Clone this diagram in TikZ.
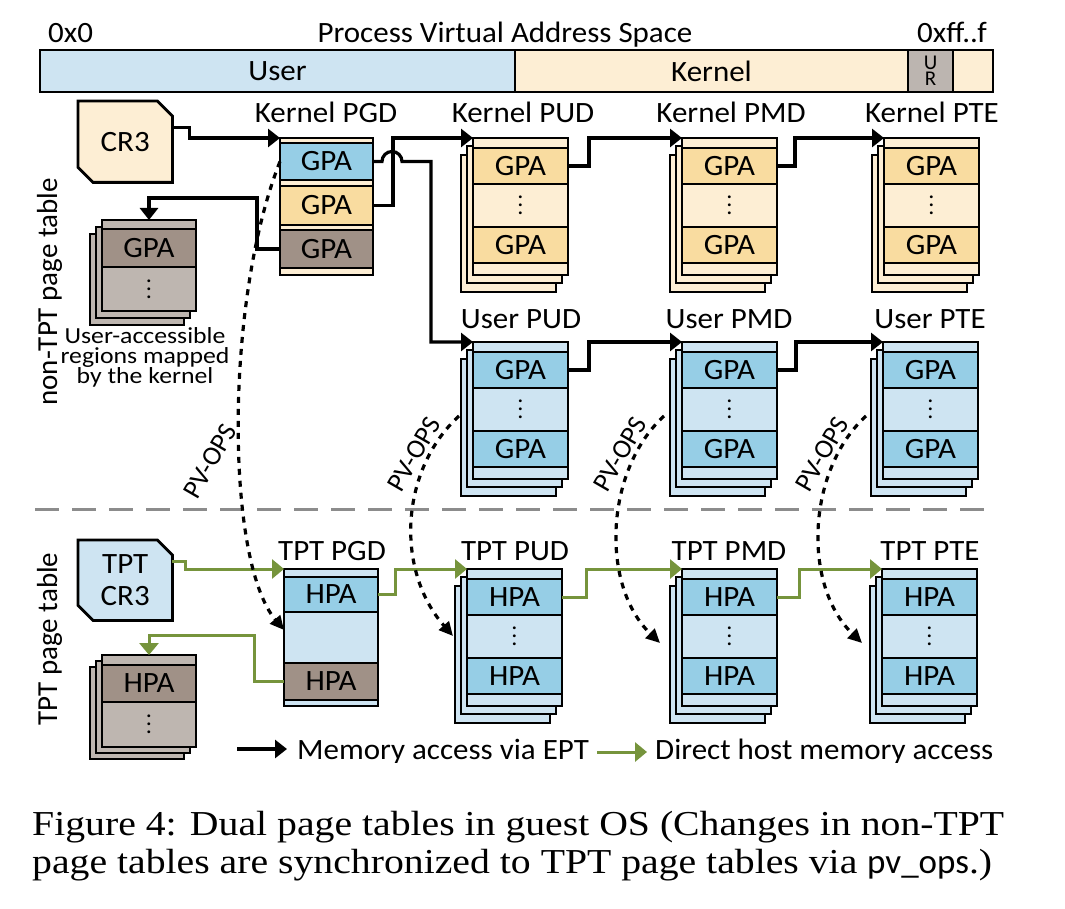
\documentclass[tikz,border=0pt]{standalone}
\usepackage{fontspec}
\setmainfont{Carlito}[FakeStretch=1.05]
\newfontfamily\plainfont{Carlito}
\newfontfamily\notefont{Carlito}[FakeStretch=1.12]
\newfontfamily\capfont{Liberation Serif}[FakeStretch=1.135]
\usetikzlibrary{arrows.meta,calc}
\definecolor{lblue}{RGB}{206,228,242}
\definecolor{mblue}{RGB}{150,206,230}
\definecolor{lorange}{RGB}{253,238,212}
\definecolor{morange}{RGB}{249,220,160}
\definecolor{brownd}{RGB}{160,145,135}
\definecolor{brownl}{RGB}{190,182,176}
\definecolor{urgray}{RGB}{188,181,176}
\definecolor{dgreen}{RGB}{118,148,60}
\definecolor{sepgray}{RGB}{140,140,140}
\newcommand\mainsize{\fontsize{29.5}{32}\selectfont}
\newcommand\vdts{\vbox{\fontsize{23}{23}\selectfont\baselineskip8pt\lineskiplimit0pt\lineskip0pt\hbox{.}\hbox{.}\hbox{.}}}
\tikzset{
  lbl/.style={font=\mainsize, inner sep=0pt},
  tbl/.style={draw, line width=2.8pt, minimum width=95pt, inner sep=0pt, outer sep=0pt},
  row/.style={draw, line width=2.8pt, minimum width=95pt, minimum height=36pt, inner sep=0pt, outer sep=0pt, font=\mainsize},
  dotrow/.style={minimum width=95pt, inner sep=0pt, outer sep=0pt},
  layer/.style={draw, line width=2.8pt},
  bar/.style={draw, line width=2.8pt, minimum height=42pt, inner sep=0pt, outer sep=0pt, font=\mainsize},
  ept/.style={line width=3.2pt, -{Triangle[length=12pt,width=18pt]}},
  hma/.style={line width=3pt, color=dgreen, -{Triangle[length=12pt,width=19pt]}},
  pvops/.style={line width=3.2pt, dash pattern=on 6pt off 6pt, -{Triangle[length=14pt,width=13pt]}},
  pvlbl/.style={font=\plainfont\fontsize{27}{27}\selectfont, rotate=60, inner sep=0pt},
  sepline/.style={line width=3pt, draw=sepgray, dash pattern=on 24pt off 13pt},
  notelbl/.style={font=\notefont\fontsize{23}{23}\selectfont, inner sep=0pt, anchor=base},
  sidelbl/.style={font=\plainfont\fontsize{29}{31}\selectfont, rotate=90, anchor=base, inner sep=0pt},
  caplbl/.style={font=\capfont\fontsize{35}{38}\selectfont, anchor=base west, inner sep=0pt},
}
% #1 name, #2 x, #3 y (top left of front table), #4 light fill, #5 entry fill, #6 entry text
\newcommand\pgstack[6]{%
  \draw[layer,fill=#4] (#2-12,#3+17) rectangle ++(95,137);
  \draw[layer,fill=#4] (#2-6,#3+8) rectangle ++(95,137);
  \node[tbl,fill=#4,minimum height=137pt,anchor=north west] (#1) at (#2,#3) {};
  \node[row,fill=#5,anchor=north west] (#1-a) at (#2,#3+10) {#6};
  \node[row,fill=#4,minimum height=43pt,anchor=north west] (#1-d) at (#2,#3+46) {\vdts};
  \node[row,fill=#5,anchor=north west] (#1-b) at (#2,#3+89) {#6};
}
\begin{document}
\begin{tikzpicture}[x=1pt,y=-1pt]
\useasboundingbox (0,0) rectangle (1065,909);
\fill[white] (0,0) rectangle (1065,909);

% ---- address space bar
\node[lbl,anchor=base west] (t0) at (48,43) {0x0};
\node[lbl,anchor=base] (tpvas) at (505,43) {Process Virtual Address Space};
\node[lbl,anchor=base east] (tff) at (987,43) {0xff..f};
\node[bar,fill=lblue,minimum width=475pt,anchor=north west] (buser) at (40,50) {User};
\node[bar,fill=lorange,minimum width=393pt,anchor=north west] (bkern) at (515,50) {Kernel};
\node[bar,fill=urgray,minimum width=45pt,anchor=north west,align=center,font=\plainfont\fontsize{21}{16}\selectfont] (bur) at (908,50) {U\\R};
\node[bar,fill=lorange,minimum width=40pt,anchor=north west] (bend) at (953,50) {};

% ---- side labels
\node[sidelbl] (lnon) at (57,292) {non-TPT page table};
\node[sidelbl] (ltpt) at (57,639) {TPT page table};

% ---- CR3
\node[anchor=north west,minimum width=94pt,minimum height=81pt,inner sep=0pt] (cr3) at (78,101) {};
\draw[layer,fill=lorange] (cr3.north west) -- ([xshift=-15pt]cr3.north east) -- ([yshift=-15pt]cr3.north east)
  -- (cr3.south east) -- ([xshift=15pt]cr3.south west) -- ([yshift=15pt]cr3.south west) -- cycle;
\node[lbl] (cr3t) at (cr3.center) {CR3};

\node[anchor=north west,minimum width=94pt,minimum height=80pt,inner sep=0pt] (tcr3) at (78,540) {};
\draw[layer,fill=lblue] (tcr3.north west) -- ([xshift=-15pt]tcr3.north east) -- ([yshift=-15pt]tcr3.north east)
  -- (tcr3.south east) -- ([xshift=15pt]tcr3.south west) -- ([yshift=15pt]tcr3.south west) -- cycle;
\node[lbl,align=center] (tcr3t) at (tcr3.center) {TPT\\CR3};

% ---- Kernel PGD
\node[tbl,fill=lorange,minimum width=93pt,minimum height=137pt,anchor=north west] (kpgd) at (280,138) {};
\node[row,fill=mblue,minimum width=93pt,minimum height=37pt,anchor=north west] (kpgd-a) at (280,143) {GPA};
\node[row,fill=morange,minimum width=93pt,minimum height=39pt,anchor=north west] (kpgd-b) at (280,186) {GPA};
\node[row,fill=brownd,minimum width=93pt,minimum height=38pt,anchor=north west] (kpgd-c) at (280,230) {GPA};
\node[lbl,anchor=base] (kpgdl) at (326,123) {Kernel PGD};

% ---- user-accessible regions (non-TPT)
\draw[layer,fill=brownl] (90,234) rectangle ++(94,91);
\draw[layer,fill=brownl] (96,227) rectangle ++(94,91);
\node[tbl,fill=brownl,minimum width=94pt,minimum height=91pt,anchor=north west] (ks) at (102,220) {};
\node[row,fill=brownd,minimum width=94pt,minimum height=38pt,anchor=north west] (ks-a) at (102,229) {GPA};
\node[dotrow,minimum width=94pt,minimum height=44pt,anchor=north west] (ks-d) at (102,267) {\vdts};
\node[notelbl] (note1) at (145,343) {User-accessible};
\node[notelbl] (note2) at (145,363) {regions mapped};
\node[notelbl] (note3) at (145,383) {by the kernel};

% ---- TPT left stack
\draw[layer,fill=brownl] (90,667) rectangle ++(94,92);
\draw[layer,fill=brownl] (96,661) rectangle ++(94,92);
\node[tbl,fill=brownl,minimum width=94pt,minimum height=92pt,anchor=north west] (ts) at (102,655) {};
\node[row,fill=brownd,minimum width=94pt,minimum height=37pt,anchor=north west] (ts-a) at (102,665) {HPA};
\node[dotrow,minimum width=94pt,minimum height=45pt,anchor=north west] (ts-d) at (102,702) {\vdts};

% ---- TPT PGD
\node[tbl,fill=lblue,minimum width=94pt,minimum height=137pt,anchor=north west] (tpgd) at (284,569) {};
\node[row,fill=mblue,minimum width=94pt,minimum height=35pt,anchor=north west] (tpgd-a) at (284,577) {HPA};
\node[row,fill=brownd,minimum width=94pt,minimum height=37pt,anchor=north west] (tpgd-b) at (284,663) {HPA};
\node[lbl,anchor=base] (tpgdl) at (332,560) {TPT PGD};

% ---- stacks
\pgstack{kpud}{473}{138}{lorange}{morange}{GPA}
\pgstack{kpmd}{682}{138}{lorange}{morange}{GPA}
\pgstack{kpte}{884}{138}{lorange}{morange}{GPA}
\pgstack{upud}{473}{342}{lblue}{mblue}{GPA}
\pgstack{upmd}{682}{342}{lblue}{mblue}{GPA}
\pgstack{upte}{883}{342}{lblue}{mblue}{GPA}
\pgstack{tpud}{467}{569}{lblue}{mblue}{HPA}
\pgstack{tpmd}{682}{569}{lblue}{mblue}{HPA}
\pgstack{tpte}{882}{569}{lblue}{mblue}{HPA}

\node[lbl,anchor=base] (kpudl) at (523,123) {Kernel PUD};
\node[lbl,anchor=base] (kpmdl) at (731,123) {Kernel PMD};
\node[lbl,anchor=base] (kptel) at (932,123) {Kernel PTE};
\node[lbl,anchor=base] (upudl) at (521,328) {User PUD};
\node[lbl,anchor=base] (upmdl) at (729,328) {User PMD};
\node[lbl,anchor=base] (uptel) at (930,328) {User PTE};
\node[lbl,anchor=base] (tpudl) at (515,560) {TPT PUD};
\node[lbl,anchor=base] (tpmdl) at (729,560) {TPT PMD};
\node[lbl,anchor=base] (tptel) at (930,560) {TPT PTE};

% ---- separator
\draw[sepline] (35,509) -- (992,509);

% ---- memory access via EPT (black)
\draw[ept] ([yshift=14pt]cr3.east) -- ++(17,0) |- (kpgd.north west);
\draw[ept] (kpgd-b.east) -- ++(20,0) |- (kpud.north west);
\draw[ept] (kpgd-a.east) -- ++(9,0) arc[start angle=180,end angle=0,radius=10pt] -- ++(29,0) |- (upud.north west);
\draw[ept] (kpgd-c.west) -- ++(-23,0) -- ++(0,-51) -| (ks.north);
\draw[ept] (kpud-a.east) -- ++(21,0) |- (kpmd.north west);
\draw[ept] (kpmd-a.east) -- ++(18,0) |- (kpte.north west);
\draw[ept] (upud-a.east) -- ++(21,0) |- (upmd.north west);
\draw[ept] (upmd-a.east) -- ++(19,0) |- (upte.north west);

% ---- direct host memory access (green)
\draw[hma] ([yshift=19pt]tcr3.east) -- ++(13,0) |- (tpgd.north west);
\draw[hma] (tpgd-a.east) -- ++(17,0) |- (tpud.north west);
\draw[hma] (tpgd-b.west) -- ++(-30,0) -- ++(0,-46) -| (ts.north);
\draw[hma] (tpud-a.east) -- ++(24,0) |- (tpmd.north west);
\draw[hma] (tpmd-a.east) -- ++(22,0) |- (tpte.north west);

% ---- PV-OPS synchronisation
\node[pvlbl] (pvl1) at (210,461) {PV-OPS};
\node[pvlbl] (pvl2) at (414,454) {PV-OPS};
\node[pvlbl] (pvl3) at (620,454) {PV-OPS};
\node[pvlbl] (pvl4) at (822,454) {PV-OPS};
\coordinate (pv1e) at (284,630);
\coordinate (pv2s) at (459,416);
\coordinate (pv2e) at (453,636);
\coordinate (pv3s) at (664,416);
\coordinate (pv3e) at (660,643);
\coordinate (pv4s) at (866,416);
\coordinate (pv4e) at (862,643);
\draw[pvops] (kpgd-a.west) .. controls (225,300) and (225,560) .. (pv1e);
\draw[pvops] (pv2s) .. controls (400,470) and (395,570) .. (pv2e);
\draw[pvops] (pv3s) .. controls (605,470) and (600,585) .. (pv3e);
\draw[pvops] (pv4s) .. controls (807,470) and (802,585) .. (pv4e);

% ---- legend
\coordinate (lg1s) at (237,749);
\coordinate (lg1e) at (287,749);
\coordinate (lg2s) at (597,752);
\coordinate (lg2e) at (647,752);
\draw[ept] (lg1s) -- (lg1e);
\draw[hma] (lg2s) -- (lg2e);
\begin{scope}
\clip (0,700) rectangle (1065,762);
\node[lbl,anchor=base west] (lgt1) at (297,759) {Memory access via EPT};
\node[lbl,anchor=base west] (lgt2) at (655,759) {Direct host memory access};
\end{scope}

% ---- caption
\node[caplbl] (cap1) at (32,835) {Figure 4: Dual page tables in guest OS (Changes in non-TPT};
\node[caplbl] (cap2) at (32,873) {page tables are synchronized to TPT page tables via {\plainfont pv\_ops}.)};
\end{tikzpicture}
\end{document}
